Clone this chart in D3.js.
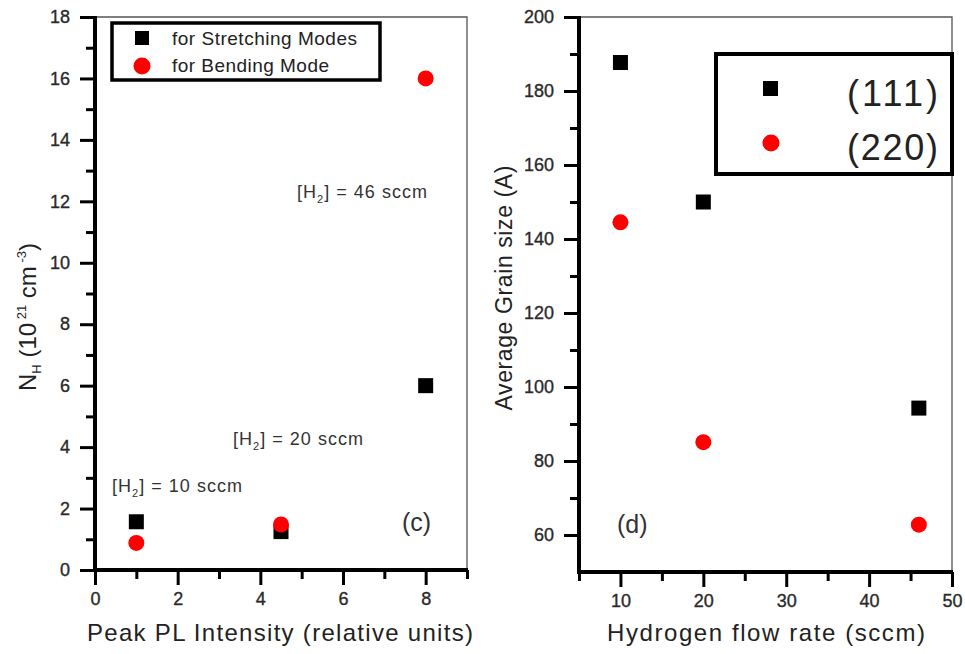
<!DOCTYPE html>
<html>
<head>
<meta charset="utf-8">
<script src="https://cdn.jsdelivr.net/npm/d3@7"></script>
<style>
  body { margin: 0; background: #fff; }
  svg text { font-family: "Liberation Sans", Arial, sans-serif; }
  .ax text { font-size: 18px; fill: #2a2a2a; stroke: #2a2a2a; stroke-width: 0.35px; }
  .ax .tick line { stroke: #000; stroke-width: 3px; }
  .ax .domain { display: none; }
</style>
</head>
<body>
<div id="chart"></div>
<script>
// Panel (c): hydrogen content vs peak PL intensity
var plIntensity = [1, 4.5, 8];
var stretchingNH = [1.57, 1.25, 6.0];
var bendingNH = [0.88, 1.48, 16.0];
var flowLabels = ["[H2] = 10 sccm", "[H2] = 20 sccm", "[H2] = 46 sccm"];

// Panel (d): grain size vs hydrogen flow rate
var flowRate = [10, 20, 46];
var grain111 = [187.7, 150, 94.3];
var grain220 = [144.5, 85.1, 62.8];

var leftTicksY = d3.range(0, 19, 2);
var leftMinorY = d3.range(1, 18, 2);
var leftTicksX = [0, 2, 4, 6, 8];
var leftMinorX = [1, 3, 5, 7, 9];
var rightTicksY = d3.range(60, 201, 20);
var rightMinorY = d3.range(70, 200, 20);
var rightTicksX = [10, 20, 30, 40, 50];
var rightMinorX = [5, 15, 25, 35, 45];

var svgWidth = 965;
var svgHeight = 654;

var svg = d3.select("#chart")
    .append("svg")
    .attr("width", svgWidth)
    .attr("height", svgHeight);

// draws frame + axes for one panel, returns the scales
function drawPanel(opt) {
    var x = d3.scaleLinear().domain(opt.xDomain).range([opt.left, opt.right]);
    var y = d3.scaleLinear().domain(opt.yDomain).range([opt.bottom, opt.top]);

    // thin top/right frame
    svg.append("path")
        .attr("d", `M${opt.left},${opt.top}H${opt.right}V${opt.bottom}`)
        .attr("fill", "none")
        .attr("stroke", "#555")
        .attr("stroke-width", 1.3);

    // minor ticks
    svg.append("g")
        .attr("class", "ax")
        .attr("transform", `translate(${opt.left},0)`)
        .call(d3.axisLeft(y).tickValues(opt.minorY).tickSize(9).tickFormat(""));
    svg.append("g")
        .attr("class", "ax")
        .attr("transform", `translate(0,${opt.bottom})`)
        .call(d3.axisBottom(x).tickValues(opt.minorX).tickSize(9).tickFormat(""));

    // major ticks
    svg.append("g")
        .attr("class", "ax")
        .attr("transform", `translate(${opt.left},0)`)
        .call(d3.axisLeft(y).tickValues(opt.majorY).tickSize(15).tickPadding(10));
    svg.append("g")
        .attr("class", "ax")
        .attr("transform", `translate(0,${opt.bottom})`)
        .call(d3.axisBottom(x).tickValues(opt.majorX).tickSize(15).tickPadding(7));

    // heavy left and bottom spines
    svg.append("path")
        .attr("d", `M${opt.left},${opt.top - 1}V${opt.bottom}H${opt.right + 1}`)
        .attr("fill", "none")
        .attr("stroke", "#000")
        .attr("stroke-width", 4);

    return { x: x, y: y };
}

function squares(sc, xs, ys, size) {
    svg.append("g").selectAll("rect")
        .data(xs.map((d, i) => [d, ys[i]]))
        .enter()
        .append("rect")
        .attr("x", d => sc.x(d[0]) - size / 2)
        .attr("y", d => sc.y(d[1]) - size / 2)
        .attr("width", size)
        .attr("height", size)
        .attr("fill", "#000");
}

function circles(sc, xs, ys, r) {
    svg.append("g").selectAll("circle")
        .data(xs.map((d, i) => [d, ys[i]]))
        .enter()
        .append("circle")
        .attr("cx", d => sc.x(d[0]))
        .attr("cy", d => sc.y(d[1]))
        .attr("r", r)
        .attr("fill", "#f00");
}

// ---------- panel (c) ----------
var sc1 = drawPanel({
    left: 95, right: 467, top: 17, bottom: 570,
    xDomain: [0, 9], yDomain: [0, 18],
    majorX: leftTicksX, minorX: leftMinorX,
    majorY: leftTicksY, minorY: leftMinorY
});
squares(sc1, plIntensity, stretchingNH, 15);
circles(sc1, plIntensity, bendingNH, 8);

// flow rate labels next to the points
var labelPos = [[112, 492], [233, 445], [297, 198]];
flowLabels.forEach(function (lab, i) {
    var t = svg.append("text")
        .attr("x", labelPos[i][0])
        .attr("y", labelPos[i][1])
        .attr("font-size", 18)
        .attr("fill", "#333")
        .attr("textLength", 130);
    t.append("tspan").text("[H");
    t.append("tspan").text("2").attr("font-size", 11).attr("dy", 5);
    t.append("tspan").text(lab.slice(3)).attr("dy", -5);
});

svg.append("text")
    .attr("x", 402).attr("y", 531)
    .attr("font-size", 25).attr("fill", "#333")
    .text("(c)");

// legend (c)
svg.append("rect")
    .attr("x", 112).attr("y", 23).attr("width", 268).attr("height", 57)
    .attr("fill", "#fff").attr("stroke", "#000").attr("stroke-width", 3.5);
svg.append("rect").attr("x", 135).attr("y", 31).attr("width", 14).attr("height", 14).attr("fill", "#000");
svg.append("circle").attr("cx", 142).attr("cy", 66).attr("r", 8.5).attr("fill", "#f00");
svg.append("text").attr("x", 172).attr("y", 45).attr("font-size", 19).attr("fill", "#222")
    .attr("textLength", 185).text("for Stretching Modes");
svg.append("text").attr("x", 172).attr("y", 72).attr("font-size", 19).attr("fill", "#222")
    .attr("textLength", 157).text("for Bending Mode");

// axis titles (c)
svg.append("text")
    .attr("x", 280).attr("y", 641)
    .attr("text-anchor", "middle")
    .attr("font-size", 24).attr("fill", "#222")
    .attr("textLength", 386)
    .text("Peak PL Intensity (relative units)");

var yt1 = svg.append("text")
    .attr("transform", "translate(36,317) rotate(-90)")
    .attr("text-anchor", "middle")
    .attr("font-size", 24).attr("fill", "#222");
yt1.append("tspan").text("N");
yt1.append("tspan").text("H").attr("font-size", 13).attr("dy", 5);
yt1.append("tspan").text(" (10").attr("dy", -5);
yt1.append("tspan").text(" 21").attr("font-size", 13).attr("dy", -10);
yt1.append("tspan").text(" cm").attr("dy", 10);
yt1.append("tspan").text(" -3").attr("font-size", 13).attr("dy", -10);
yt1.append("tspan").text(")").attr("dy", 10);

// ---------- panel (d) ----------
var sc2 = drawPanel({
    left: 579, right: 952, top: 17, bottom: 572,
    xDomain: [5, 50], yDomain: [50, 200],
    majorX: rightTicksX, minorX: rightMinorX,
    majorY: rightTicksY, minorY: rightMinorY
});
squares(sc2, flowRate, grain111, 15);
circles(sc2, flowRate, grain220, 8);

svg.append("text")
    .attr("x", 617).attr("y", 533)
    .attr("font-size", 25).attr("fill", "#333")
    .text("(d)");

// legend (d)
svg.append("rect")
    .attr("x", 716).attr("y", 54).attr("width", 236).attr("height", 120)
    .attr("fill", "#fff").attr("stroke", "#000").attr("stroke-width", 4);
svg.append("rect").attr("x", 763).attr("y", 81).attr("width", 15).attr("height", 15).attr("fill", "#000");
svg.append("circle").attr("cx", 771).attr("cy", 143).attr("r", 8.5).attr("fill", "#f00");
svg.append("text").attr("x", 938).attr("y", 106).attr("text-anchor", "end")
    .attr("font-size", 36).attr("fill", "#222").attr("textLength", 91).text("(111)");
svg.append("text").attr("x", 938).attr("y", 160).attr("text-anchor", "end")
    .attr("font-size", 36).attr("fill", "#222").attr("textLength", 91).text("(220)");

// axis titles (d)
svg.append("text")
    .attr("x", 766).attr("y", 641)
    .attr("text-anchor", "middle")
    .attr("font-size", 24).attr("fill", "#222")
    .attr("textLength", 318)
    .text("Hydrogen flow rate (sccm)");

svg.append("text")
    .attr("transform", "translate(512,288) rotate(-90)")
    .attr("text-anchor", "middle")
    .attr("font-size", 23).attr("fill", "#222")
    .attr("textLength", 245)
    .text("Average Grain size (A)");
</script>
</body>
</html>
